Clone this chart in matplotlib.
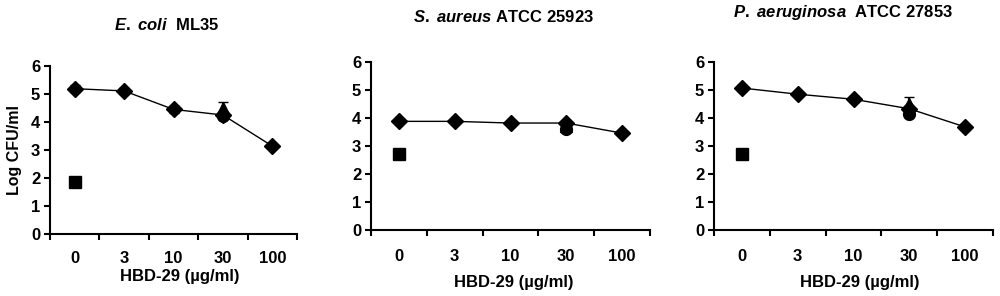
import numpy as np
import matplotlib
matplotlib.use('Agg')
import matplotlib.pyplot as plt

plt.rcParams['font.family'] = 'Liberation Sans'
plt.rcParams['font.weight'] = 'bold'
plt.rcParams['mathtext.fontset'] = 'custom'
plt.rcParams['mathtext.it'] = 'Liberation Sans:bold:italic'
plt.rcParams['mathtext.rm'] = 'Liberation Sans:bold'

doses = ['0', '3', '10', '30', '100']

titles = [r'$\mathit{E.\ coli}$  ML35',
          r'$\mathit{S.\ aureus}$ ATCC 25923',
          r'$\mathit{P.\ aeruginosa}$  ATCC 27853']

# diamond series (HBD-29 dose response)
hbd_mean = [
    [5.19, 5.11, 4.45, 4.25, 3.14],
    [3.88, 3.88, 3.82, 3.82, 3.46],
    [5.07, 4.85, 4.67, 4.33, 3.68],
]
hbd_err = [
    [0.12, 0.10, 0.12, 0.10, 0.08],
    [0.05, 0.05, 0.05, 0.05, 0.08],
    [0.12, 0.08, 0.10, 0.10, 0.12],
]
# square at dose 0
square_mean = [1.86, 2.71, 2.73]
square_err = [0.08, 0.08, 0.08]
# triangle and circle at dose 30
triangle_mean = [4.50, 3.70, 4.50]
triangle_err = [0.20, 0.10, 0.25]
circle_mean = [4.20, 3.60, 4.15]
circle_err = [0.10, 0.10, 0.12]

# layout in pixels of the 1000x296 canvas
W, H = 1000, 296
axes_px = [(50, 297, 66, 234), (371, 650, 62, 230), (714, 993, 62, 230)]
title_px = [(167, 25), (503, 17), (843, 13)]
xlabel_px = [(180, 277), (514, 283), (860, 283)]
tick_pad = [9, 11, 11]

fig = plt.figure(figsize=(10, 2.96), dpi=100)

for i in range(3):
    l, r, t, b = axes_px[i]
    ax = fig.add_axes([l / W, 1 - b / H, (r - l) / W, (b - t) / H])
    x = np.arange(len(doses))

    ax.errorbar(x, hbd_mean[i], yerr=hbd_err[i], color='black', marker='D',
                markersize=8.5, linewidth=1, capsize=3.5, elinewidth=1, zorder=3)
    ax.errorbar([3], [circle_mean[i]], yerr=[circle_err[i]], color='black',
                marker='o', markersize=8.5, linestyle='none', capsize=3.5, zorder=2)
    ax.errorbar([3], [triangle_mean[i]], yerr=[triangle_err[i]], color='black',
                marker='^', markersize=9, linestyle='none', capsize=3.5, zorder=2)
    ax.errorbar([0], [square_mean[i]], yerr=[square_err[i]], color='black',
                marker='s', markersize=8.5, linestyle='none', capsize=3.5, zorder=2)

    ax.set_xlim(-0.5, 4.5)
    ax.set_ylim(0, 6)
    ax.set_yticks(range(7))
    ax.set_xticks(np.arange(-0.5, 5, 1))
    ax.set_xticklabels([])
    ax.set_xticks(x, minor=True)
    ax.set_xticklabels(doses, minor=True)
    ax.tick_params(axis='x', which='minor', length=0, pad=tick_pad[i] + 3, labelsize=12)
    ax.tick_params(axis='x', which='major', length=4, width=1.5, direction='out')
    ax.tick_params(axis='y', length=4, width=1.5, direction='out', labelsize=12, pad=3)
    for s in ['top', 'right']:
        ax.spines[s].set_visible(False)
    for s in ['left', 'bottom']:
        ax.spines[s].set_linewidth(1.5)

    tx, ty = title_px[i]
    fig.text(tx / W, 1 - ty / H, titles[i], ha='center', va='center', fontsize=12)
    lx, ly = xlabel_px[i]
    fig.text(lx / W, 1 - ly / H, 'HBD-29 (µg/ml)', ha='center', va='center', fontsize=12)

fig.text(15 / W, 1 - 150 / H, 'Log CFU/ml', rotation=90, ha='center', va='center', fontsize=11.5)

fig.savefig('out.png', dpi=100)
